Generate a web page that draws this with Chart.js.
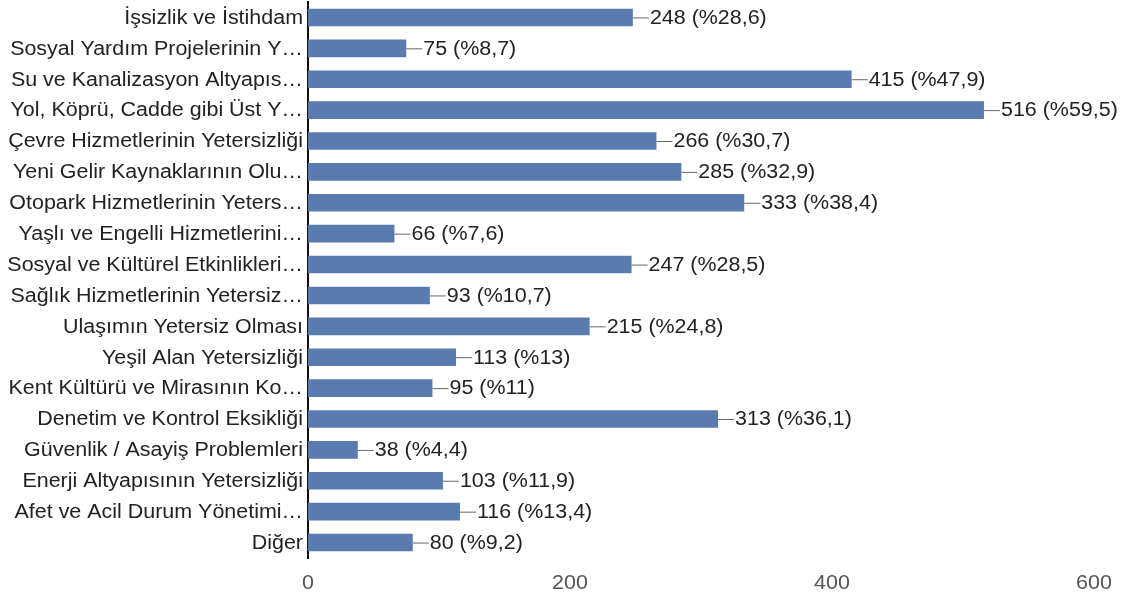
<!DOCTYPE html>
<html>
<head>
<meta charset="utf-8">
<script src="https://cdn.jsdelivr.net/npm/chart.js@4"></script>
<style>
  html, body { margin: 0; padding: 0; background: #fff; }
  #wrap { width: 1124px; height: 600px; }
</style>
</head>
<body>
<div id="wrap"><canvas id="chart"></canvas></div>
<script>
const categories = [
  "İşsizlik ve İstihdam",
  "Sosyal Yardım Projelerinin Y…",
  "Su ve Kanalizasyon Altyapıs…",
  "Yol, Köprü, Cadde gibi Üst Y…",
  "Çevre Hizmetlerinin Yetersizliği",
  "Yeni Gelir Kaynaklarının Olu…",
  "Otopark Hizmetlerinin Yeters…",
  "Yaşlı ve Engelli Hizmetlerini…",
  "Sosyal ve Kültürel Etkinlikleri…",
  "Sağlık Hizmetlerinin Yetersiz…",
  "Ulaşımın Yetersiz Olması",
  "Yeşil Alan Yetersizliği",
  "Kent Kültürü ve Mirasının Ko…",
  "Denetim ve Kontrol Eksikliği",
  "Güvenlik / Asayiş Problemleri",
  "Enerji Altyapısının Yetersizliği",
  "Afet ve Acil Durum Yönetimi…",
  "Diğer"
];
const counts = [248, 75, 415, 516, 266, 285, 333, 66, 247, 93, 215, 113, 95, 313, 38, 103, 116, 80];
const percents = ["28,6", "8,7", "47,9", "59,5", "30,7", "32,9", "38,4", "7,6", "28,5", "10,7", "24,8", "13", "11", "36,1", "4,4", "11,9", "13,4", "9,2"];
const xTicks = [0, 200, 400, 600];

const FONT = "19.5px 'Liberation Sans', Arial, sans-serif";
const STRETCH = 1.1; // the source image text is a bit wider than plain Arial

function wideText(ctx, text, x, y, align) {
  ctx.save();
  ctx.translate(x, y);
  ctx.scale(STRETCH, 1);
  ctx.textAlign = align;
  ctx.fillText(text, 0, 0);
  ctx.restore();
}

// category names, x ticks and the "—248 (%28,6)" labels
const textLayer = {
  id: "textLayer",
  afterDraw(chart) {
    const ctx = chart.ctx;
    const xs = chart.scales.x;
    const ys = chart.scales.y;
    const meta = chart.getDatasetMeta(0);
    ctx.save();
    ctx.font = FONT;
    ctx.textBaseline = "middle";

    ctx.fillStyle = "#222";
    categories.forEach((c, i) => {
      wideText(ctx, c, ys.right - 5, ys.getPixelForValue(i) + 1, "right");
    });

    ctx.fillStyle = "#555";
    xTicks.forEach(v => {
      wideText(ctx, String(v), xs.getPixelForValue(v), xs.top + 26, "center");
    });

    ctx.strokeStyle = "#666";
    ctx.lineWidth = 1;
    ctx.fillStyle = "#222";
    meta.data.forEach((bar, i) => {
      ctx.beginPath();
      ctx.moveTo(bar.x, bar.y + 0.5);
      ctx.lineTo(bar.x + 16, bar.y + 0.5);
      ctx.stroke();
      wideText(ctx, counts[i] + " (%" + percents[i] + ")", bar.x + 17, bar.y + 1, "left");
    });
    ctx.restore();
  }
};

new Chart(document.getElementById("chart"), {
  type: "bar",
  data: {
    labels: categories,
    datasets: [
      {
        data: counts,
        backgroundColor: "#5a7bb0",
        borderWidth: 0,
        categoryPercentage: 1,
        barPercentage: 0.57
      }
    ]
  },
  options: {
    indexAxis: "y",
    responsive: true,
    maintainAspectRatio: false,
    animation: false,
    layout: {
      padding: { top: 2, right: 30, left: 0, bottom: 0 }
    },
    plugins: {
      legend: { display: false },
      tooltip: { enabled: false }
    },
    scales: {
      x: {
        min: 0,
        max: 600,
        afterFit(scale) {
          scale.height = 42;
          scale.paddingLeft = 0;
          scale.paddingRight = 0;
        },
        grid: { display: false, drawTicks: false },
        border: { display: false },
        ticks: { display: false }
      },
      y: {
        afterFit(scale) {
          scale.width = 308;
          scale.paddingTop = 0;
          scale.paddingBottom = 0;
        },
        grid: { display: false, drawTicks: false },
        border: { display: true, color: "#111", width: 2 },
        ticks: { display: false }
      }
    }
  },
  plugins: [textLayer]
});
</script>
</body>
</html>
